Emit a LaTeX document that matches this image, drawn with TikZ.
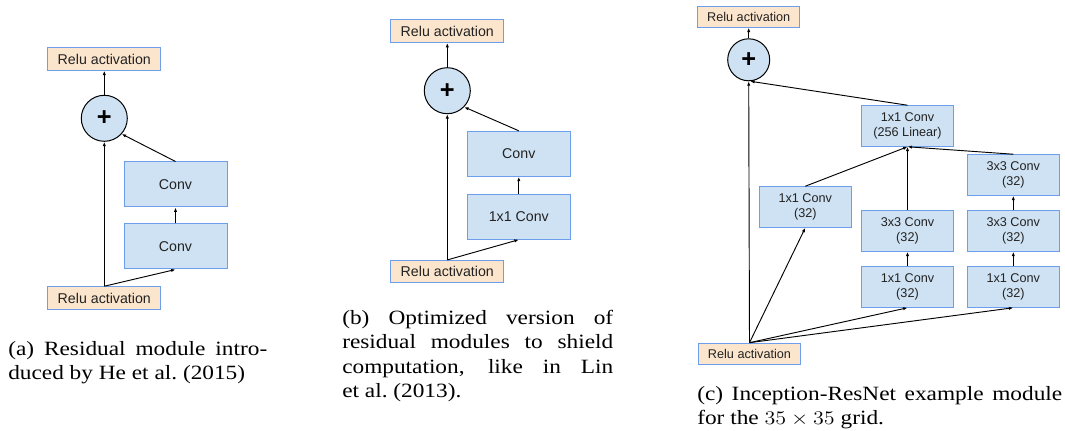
\documentclass[tikz,border=0pt]{standalone}
\usepackage{fontspec}
\setmainfont{Liberation Serif}
\newfontfamily\arial{Liberation Sans}
\usepackage{graphicx}
\usetikzlibrary{arrows.meta}
\definecolor{boxblue}{HTML}{CFE2F3}
\definecolor{reluorange}{HTML}{FCE5CD}
\definecolor{bordblue}{HTML}{6D9EEB}
\definecolor{txt}{HTML}{222222}
\begin{document}
\begin{tikzpicture}[x=0.75pt,y=-0.75pt,
  blk/.style={draw=bordblue, fill=boxblue, line width=0.75pt, align=center, inner sep=0pt, text=txt},
  bigblk/.style={blk, minimum width=77.25pt, minimum height=33.75pt, font=\arial\fontsize{10.65pt}{12pt}\selectfont},
  smallblk/.style={blk, minimum width=69pt, minimum height=30.4pt, font=\arial\fontsize{9.5pt}{11.25pt}\selectfont},
  bigrelu/.style={blk, fill=reluorange, minimum width=84.75pt, minimum height=16.9pt, font=\arial\fontsize{10.65pt}{12pt}\selectfont},
  smallrelu/.style={blk, fill=reluorange, minimum width=76.9pt, minimum height=15.75pt, font=\arial\fontsize{9.5pt}{11.25pt}\selectfont},
  bigsum/.style={circle, draw=black, fill=boxblue, line width=0.75pt, minimum size=34.5pt, inner sep=0pt, text=black, font=\arial\bfseries\fontsize{19pt}{19pt}\selectfont},
  smallsum/.style={bigsum, minimum size=31.5pt},
  arr/.style={-{Latex[length=3.3pt,width=2.5pt]}, line width=0.7pt, draw=black},
  captxt/.style={anchor=base west, inner sep=0pt, text=black, font=\fontsize{15.2pt}{18.3pt}\selectfont}
]
\useasboundingbox (0,0) rectangle (1065,431);

% ---------- panel (a)
\node[bigrelu] (aTop) at (104.3,59) {Relu activation};
\node[bigsum] (aSum) at (104.3,118.3) {+};
\node[bigblk] (aC2) at (175.5,184.5) {Conv};
\node[bigblk] (aC1) at (175.5,246.5) {Conv};
\node[bigrelu] (aBot) at (104.3,298) {Relu activation};
\draw[arr] (aSum.north) -- (aTop.south);
\draw[arr] (aBot.north) -- (aSum.south);
\draw[arr] (aBot.north) -- (aC1.south);
\draw[arr] (aC1.north) -- (aC2.south);
\draw[arr] (aC2.north) -- (aSum.-42);

% ---------- panel (b)
\node[bigrelu] (bTop) at (447.3,31.2) {Relu activation};
\node[bigsum] (bSum) at (447.3,90.7) {+};
\node[bigblk] (bC2) at (518.8,153.8) {Conv};
\node[bigblk] (bC1) at (518.8,216.7) {1x1 Conv};
\node[bigrelu] (bBot) at (447.3,271.7) {Relu activation};
\draw[arr] (bSum.north) -- (bTop.south);
\draw[arr] (bBot.north) -- (bSum.south);
\draw[arr] (bBot.north) -- (bC1.south);
\draw[arr] (bC1.north) -- (bC2.south);
\draw[arr] (bC2.north) -- (bSum.-44);

% ---------- panel (c)
\node[smallrelu] (cTop) at (748.7,16.7) {Relu activation};
\node[smallsum] (cSum) at (748.7,59.8) {+};
\node[smallblk] (cLin) at (907.5,126) {1x1 Conv\\(256 Linear)};
\node[smallblk] (cL1) at (805.3,207) {1x1 Conv\\(32)};
\node[smallblk] (cM2) at (907.5,231) {3x3 Conv\\(32)};
\node[smallblk] (cM1) at (907.5,287) {1x1 Conv\\(32)};
\node[smallblk] (cR3) at (1013.3,175) {3x3 Conv\\(32)};
\node[smallblk] (cR2) at (1013.3,231) {3x3 Conv\\(32)};
\node[smallblk] (cR1) at (1013.3,287) {1x1 Conv\\(32)};
\node[smallrelu] (cBot) at (749.5,353.7) {Relu activation};
\draw[arr] (cSum.north) -- (cTop.south);
\draw[arr] (cBot.north) -- (cSum.south);
\draw[arr] (cBot.north) -- (cL1.south);
\draw[arr] (cBot.north) -- (cM1.south);
\draw[arr] (cBot.north) -- (cR1.south);
\draw[arr] (cM1.north) -- (cM2.south);
\draw[arr] (cR1.north) -- (cR2.south);
\draw[arr] (cR2.north) -- (cR3.south);
\draw[arr] (cL1.north) -- (cLin.south);
\draw[arr] (cM2.north) -- (cLin.south);
\draw[arr] (cR3.north) -- (cLin.south);
\draw[arr] (cLin.north) -- (cSum.-86);

% ---------- captions
\node[captxt] (capA) at (8,355) {\scalebox{1.15}[1]{\parbox[t]{168.9pt}{(a) Residual module intro-\linebreak duced by He et al.\ (2015)}}};
\node[captxt] (capB) at (342,324.5) {\scalebox{1.15}[1]{\parbox[t]{176.7pt}{(b) Optimized version of\linebreak residual modules to shield\linebreak computation, like in Lin\linebreak et al.\ (2013).}}};
\node[captxt] (capC) at (697,400.5) {\scalebox{1.15}[1]{\parbox[t]{238pt}{(c) Inception-ResNet example module\linebreak for the $35\times35$ grid.}}};
\end{tikzpicture}
\end{document}
